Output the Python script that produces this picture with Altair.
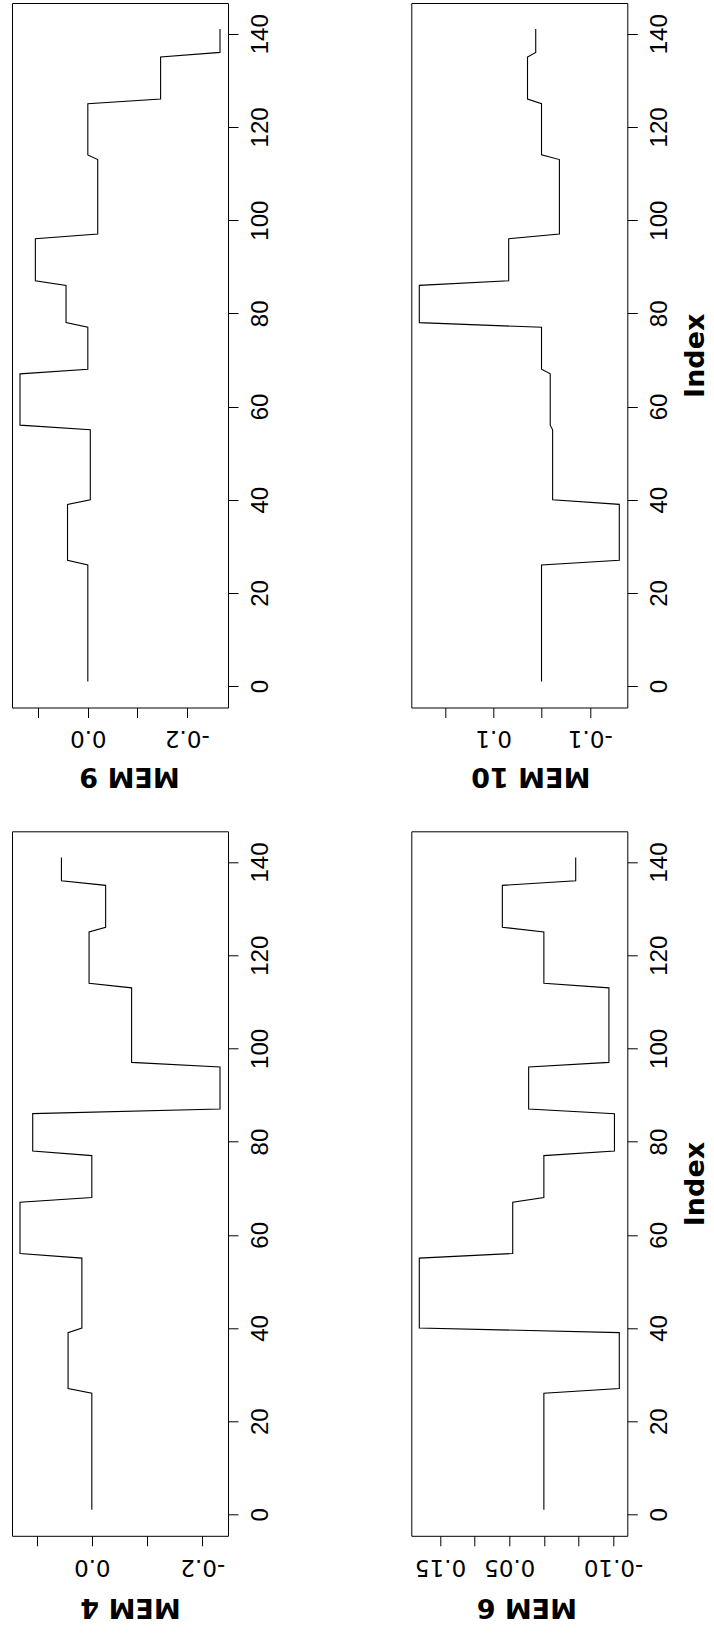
import altair as alt
import pandas as pd

# Index runs 1..141; the MEM vectors are constant within these consecutive groups
block_sizes = [26, 13, 16, 12, 10, 9, 10, 17, 12, 10, 6]

mem4 = [0.0, 0.043, 0.018, 0.130, 0.0, 0.107, -0.232, -0.072, 0.005, -0.025, 0.055]
mem6 = [0.0, -0.109, 0.180, 0.045, 0.0, -0.102, 0.022, -0.094, 0.0, 0.060, -0.046]
mem9 = [0.0, 0.041, -0.005, 0.137, 0.0, 0.044, 0.106, -0.020, 0.0, -0.147, -0.267]
mem10 = [0.0, -0.161, -0.023, -0.018, 0.0, 0.253, 0.068, -0.037, 0.0, 0.029, 0.012]

index_ticks = [0, 20, 40, 60, 80, 100, 120, 140]

mem4_ticks = [-0.2, -0.1, 0.0, 0.1]
mem4_labels = ["-0.2", "", "0.0", ""]
mem9_ticks = [-0.2, -0.1, 0.0, 0.1]
mem9_labels = ["-0.2", "", "0.0", ""]
mem10_ticks = [-0.1, 0.0, 0.1, 0.2]
mem10_labels = ["-0.1", "", "0.1", ""]
mem6_ticks = [-0.10, -0.05, 0.0, 0.05, 0.10, 0.15]
mem6_labels = ["-0.10", "", "", "0.05", "", "0.15"]

W = 216
H = 704.5


def make_df(block_values):
    rows = []
    idx = 1
    for size, v in zip(block_sizes, block_values):
        for _ in range(size):
            rows.append({"Index": idx, "value": v})
            idx += 1
    return pd.DataFrame(rows)


def label_expr(ticks, labels):
    expr = "''"
    for t, l in zip(ticks, labels):
        if l:
            expr = f"abs(datum.value - ({t})) < 1e-9 ? '{l}' : " + expr
    return expr


def panel(name, block_values, ticks, labels, index_title, title_x, title_y):
    df = make_df(block_values)
    lo, hi = min(block_values), max(block_values)
    pad = 0.04 * (hi - lo)
    x_axis = alt.Axis(
        values=ticks,
        labelExpr=label_expr(ticks, labels),
        labelAngle=180,
        labelAlign="center",
        labelBaseline="alphabetic",
        labelFont="DejaVu Sans",
        labelFontSize=23,
        labelColor="black",
        labelPadding=13.3,
        labelOverlap=False,
        labelFlush=False,
        labelBound=False,
        tickSize=10,
        tickColor="black",
        tickWidth=1,
        domain=False,
        grid=False,
        title=name,
        titleFont="DejaVu Sans",
        titleFontWeight="bold",
        titleFontSize=27,
        titleColor="black",
        titleAngle=180,
        titleAlign="center",
        titleBaseline="alphabetic",
        titleX=title_x,
        titleY=title_y,
    )
    y_axis_kwargs = dict(
        orient="right",
        values=index_ticks,
        format="d",
        labelAngle=270,
        labelAlign="center",
        labelBaseline="alphabetic",
        labelFont="Liberation Sans",
        labelFontSize=24,
        labelColor="black",
        labelPadding=29,
        labelOverlap=False,
        labelFlush=False,
        tickSize=10,
        tickColor="black",
        tickWidth=1,
        domain=False,
        grid=False,
    )
    if index_title:
        y_axis_kwargs.update(
            title="Index",
            titleFont="DejaVu Sans",
            titleFontWeight="bold",
            titleFontSize=27,
            titleColor="black",
            titleAngle=270,
            titleAlign="center",
            titleBaseline="alphabetic",
            titleX=76,
            titleY=H / 2,
        )
    else:
        y_axis_kwargs.update(title=None)
    return (
        alt.Chart(df)
        .mark_line(color="black", strokeWidth=1.1)
        .encode(
            x=alt.X(
                "value:Q",
                scale=alt.Scale(domain=[lo - pad, hi + pad], reverse=True, nice=False, zero=False),
                axis=x_axis,
            ),
            y=alt.Y(
                "Index:Q",
                scale=alt.Scale(domain=[-4.6, 146.6], nice=False, zero=False),
                axis=alt.Axis(**y_axis_kwargs),
            ),
            order=alt.Order("Index:Q"),
        )
        .properties(width=W, height=H)
    )


p9 = panel("MEM 9", mem9, mem9_ticks, mem9_labels, False, 117, 60)
p4 = panel("MEM 4", mem4, mem4_ticks, mem4_labels, False, 118, 62.5)
p10 = panel("MEM 10", mem10, mem10_ticks, mem10_labels, True, 119, 60)
p6 = panel("MEM 6", mem6, mem6_ticks, mem6_labels, True, 115, 62.5)

chart = (
    alt.concat(p9, p10, p4, p6, columns=2, spacing={"row": 123.3, "column": 183.3}, bounds="flush")
    .properties(padding={"left": 11, "top": 2, "right": 4, "bottom": 12}, background="white")
    .configure_view(stroke="black", strokeWidth=1)
)

chart.save("out.html", embed_options={"renderer": "svg", "actions": False})
